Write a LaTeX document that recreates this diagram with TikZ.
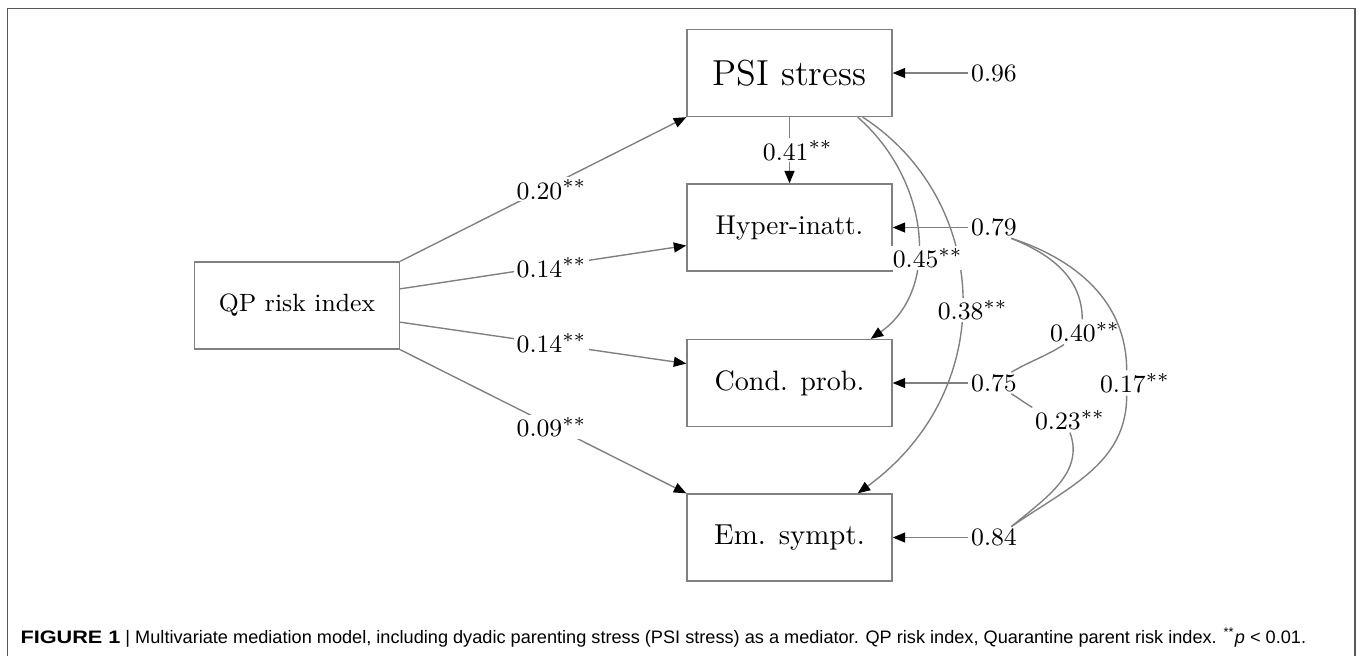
\documentclass[tikz,border=0pt]{standalone}
\usepackage{fontspec}
\usepackage{graphicx}
\newfontfamily\capfont{Liberation Sans}
\usetikzlibrary{arrows.meta,calc}
\tikzset{
  var/.style={draw=black!50, line width=0.5pt, minimum width=73.8pt,
    minimum height=31.3pt, inner sep=0pt, font=\fontsize{9}{11}\selectfont},
  coef/.style={fill=white, inner sep=0.8pt, font=\fontsize{9.3}{11}\selectfont},
  effect/.style={draw=black!50, line width=0.5pt,
    -{Triangle[length=4.5pt,width=3.6pt,black]}},
  corr/.style={draw=black!50, line width=0.5pt},
}

\begin{document}
\begin{tikzpicture}[x=0.36pt,y=-0.36pt]
  \useasboundingbox (0,0) rectangle (1358,656);
  \draw[black!65, line width=0.7pt] (7.5,656) -- (7.5,8.5) -- (1355,8.5) -- (1355,656);

  \node[var] (qp) at (297,305.5) {QP risk index};
  \node[var, font=\fontsize{13}{15}\selectfont] (psi) at (789.5,73) {PSI stress};
  \node[var, font=\fontsize{9.8}{11}\selectfont] (hyp) at (789.5,227.5) {Hyper-inatt.};
  \node[var, font=\fontsize{10.1}{12}\selectfont] (cond) at (789.5,383) {Cond. prob.};
  \node[var, font=\fontsize{10.4}{12}\selectfont] (em) at (789.5,537.5) {Em. sympt.};

  \foreach \n/\y/\v in {psi/73/0.96, hyp/227.5/0.79, cond/383/0.75, em/537.5/0.84} {
    \node[coef] (res-\n) at (994,\y) {$\v$};
    \draw[effect] (res-\n) -- (\n);
  }

  \draw[effect] (qp.north east) -- node[coef, xshift=3pt] {$0.20^{**}$} (psi.south west);
  \draw[effect] ([yshift=6pt]qp.east) -- node[coef, xshift=3pt] {$0.14^{**}$} ([yshift=-6.5pt]hyp.west);
  \draw[effect] ([yshift=-6pt]qp.east) -- node[coef, xshift=3pt] {$0.14^{**}$} ([yshift=7pt]cond.west);
  \draw[effect] (qp.south east) -- node[coef, xshift=3pt, yshift=-2pt] {$0.09^{**}$} (em.north west);
  \draw[effect] (psi) -- node[coef, xshift=3pt] {$0.41^{**}$} (hyp);

  \draw[effect] ([xshift=-10.8pt]psi.south east) .. controls +(128,83) and +(143,-104)
    .. ([xshift=-12.6pt]em.north east) node[coef, pos=.53, xshift=4pt] {$0.38^{**}$};
  \draw[effect] ([xshift=-12.6pt]psi.south east) .. controls +(72,63) and +(70,-49)
    .. ([xshift=-7.9pt]cond.north east) node[coef, pos=.6, xshift=3.8pt] {$0.45^{**}$};

  \node[coef] (c40) at (1085,332) {$0.40^{**}$};
  \node[coef] (c17) at (1135,383) {$0.17^{**}$};
  \node[coef] (c23) at (1070,420) {$0.23^{**}$};
  \draw[corr] ([xshift=-3pt]res-hyp.south east) to[out=-22,in=90] ([xshift=-1pt]c40.north);
  \draw[corr] ([xshift=6pt]c40.south west) to[out=-148,in=30] ([xshift=-3pt]res-cond.north east);
  \draw[corr] ([xshift=-3pt]res-hyp.south east) to[out=-18,in=90] ([xshift=-3pt]c17.north);
  \draw[corr] ([xshift=-3pt]c17.south) to[out=-90,in=35] ([xshift=-3pt]res-em.north east);
  \draw[corr] ([xshift=-3pt]res-cond.south east) to[out=-30,in=150] (c23.north west);
  \draw[corr] (c23.south) to[out=-70,in=40] ([xshift=-3pt]res-em.north east);

  \node[anchor=base west, inner sep=0pt] (caption) at (20,643) {\capfont\fontsize{6.5}{8}\selectfont
    \scalebox{1.2}[1]{\textbf{FIGURE 1}} \resizebox{425pt}{\height}{| Multivariate mediation model, including dyadic parenting stress (PSI stress) as a mediator. QP risk index, Quarantine parent risk index. \textsuperscript{**}\textit{p} < 0.01.}};
\end{tikzpicture}
\end{document}
